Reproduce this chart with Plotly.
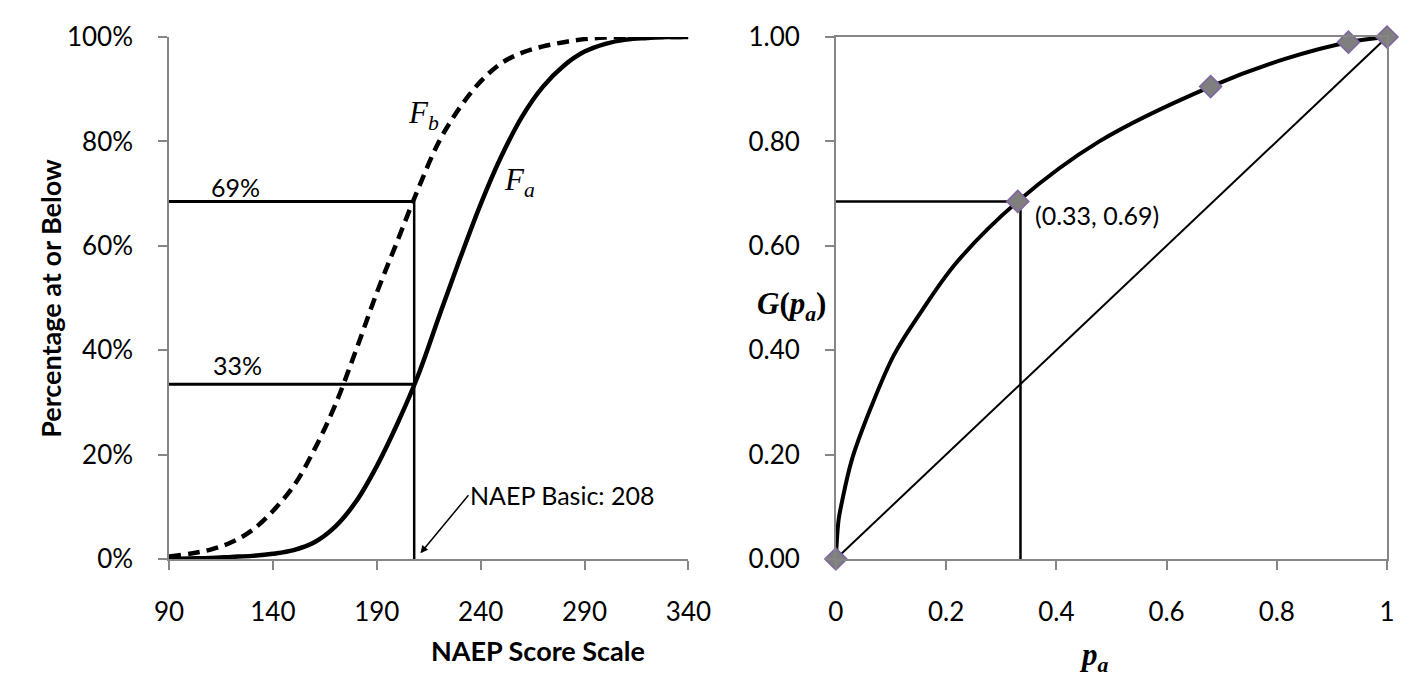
import plotly.graph_objects as go

# ---------------- data ----------------
score = [90, 100, 110, 120, 130, 140, 150, 160, 170, 180, 190, 200, 210,
         220, 230, 240, 250, 260, 270, 280, 290, 300, 310, 320, 330, 340]
fa = [0.000, 0.001, 0.002, 0.004, 0.006, 0.010, 0.017, 0.032, 0.062, 0.110,
      0.178, 0.260, 0.353, 0.465, 0.575, 0.680, 0.772, 0.848, 0.905, 0.945,
      0.972, 0.987, 0.995, 0.998, 1.000, 1.000]
fb = [0.005, 0.010, 0.018, 0.032, 0.055, 0.092, 0.140, 0.210, 0.295, 0.400,
      0.510, 0.610, 0.710, 0.800, 0.865, 0.915, 0.950, 0.970, 0.982, 0.990,
      0.996, 0.999, 1.000, 1.000, 1.000, 1.000]

naep_basic = 208
pa_basic = 0.335
pb_basic = 0.685

g_x = [0.0, 0.005, 0.011, 0.029, 0.064, 0.106, 0.155, 0.219, 0.33, 0.478,
       0.68, 0.815, 0.93, 1.0]
g_y = [0.0, 0.075, 0.109, 0.19, 0.291, 0.392, 0.474, 0.568, 0.685, 0.80,
       0.905, 0.958, 0.99, 1.0]
marker_x = [0.0, 0.33, 0.68, 0.93, 1.0]
marker_y = [0.0, 0.685, 0.905, 0.99, 1.0]
diag = [0.0, 1.0]

left_xticks = [90, 140, 190, 240, 290, 340]
left_yticks = [0, 0.2, 0.4, 0.6, 0.8, 1.0]
right_xticks = [0, 0.2, 0.4, 0.6, 0.8, 1.0]
right_xticklabels = ["0", "0.2", "0.4", "0.6", "0.8", "1"]
right_yticks = [0, 0.2, 0.4, 0.6, 0.8, 1.0]

# ---------------- styling ----------------
FONT = "Lato"
MATH = "Liberation Serif"
FS = 26
AXC = "#868686"
BLACK = "#000000"

fig = go.Figure()

# Left panel
fig.add_trace(go.Scatter(x=score, y=fb, mode="lines", line_shape="spline",
                         line=dict(color=BLACK, width=4.5, dash="12px,7px"),
                         xaxis="x", yaxis="y", showlegend=False, hoverinfo="skip"))
fig.add_trace(go.Scatter(x=score, y=fa, mode="lines", line_shape="spline",
                         line=dict(color=BLACK, width=4.5),
                         xaxis="x", yaxis="y", showlegend=False, hoverinfo="skip"))
fig.add_trace(go.Scatter(x=[score[0], naep_basic], y=[pb_basic, pb_basic], mode="lines",
                         line=dict(color=BLACK, width=3), xaxis="x", yaxis="y",
                         showlegend=False, hoverinfo="skip"))
fig.add_trace(go.Scatter(x=[score[0], naep_basic], y=[pa_basic, pa_basic], mode="lines",
                         line=dict(color=BLACK, width=3), xaxis="x", yaxis="y",
                         showlegend=False, hoverinfo="skip"))
fig.add_trace(go.Scatter(x=[naep_basic, naep_basic], y=[0, pb_basic], mode="lines",
                         line=dict(color=BLACK, width=2.5), xaxis="x", yaxis="y",
                         showlegend=False, hoverinfo="skip"))

# Right panel
fig.add_trace(go.Scatter(x=diag, y=diag, mode="lines",
                         line=dict(color=BLACK, width=2), xaxis="x2", yaxis="y2",
                         showlegend=False, hoverinfo="skip"))
fig.add_trace(go.Scatter(x=[0, pa_basic], y=[pb_basic, pb_basic], mode="lines",
                         line=dict(color=BLACK, width=2.5), xaxis="x2", yaxis="y2",
                         showlegend=False, hoverinfo="skip"))
fig.add_trace(go.Scatter(x=[pa_basic, pa_basic], y=[0, pb_basic], mode="lines",
                         line=dict(color=BLACK, width=2.5), xaxis="x2", yaxis="y2",
                         showlegend=False, hoverinfo="skip"))
fig.add_trace(go.Scatter(x=g_x, y=g_y, mode="lines", line_shape="spline",
                         line=dict(color=BLACK, width=4), xaxis="x2", yaxis="y2",
                         showlegend=False, hoverinfo="skip"))
fig.add_trace(go.Scatter(x=marker_x, y=marker_y, mode="markers", cliponaxis=False,
                         marker=dict(symbol="diamond", size=17, color="#7f7f7f",
                                     line=dict(color="#8064a2", width=1.5)),
                         xaxis="x2", yaxis="y2", showlegend=False, hoverinfo="skip"))

axis_common = dict(showgrid=False, zeroline=False, showline=True, linecolor=AXC,
                   linewidth=1.5, ticks="outside", ticklen=9, tickcolor=AXC,
                   tickwidth=1.5, tickfont=dict(family=FONT, size=FS, color=BLACK))

fig.update_layout(
    width=1414, height=683,
    margin=dict(l=161, r=22, t=21, b=132),
    paper_bgcolor="white", plot_bgcolor="white",
    xaxis=dict(domain=[0, 0.4265], range=[90, 340], tickvals=left_xticks,
               anchor="y", ticklabelstandoff=20, **axis_common),
    yaxis=dict(domain=[0, 1], range=[0, 1], tickvals=left_yticks, tickformat=".0%",
               anchor="x", ticklabelstandoff=20, **axis_common),
    xaxis2=dict(domain=[0.5475, 1], range=[0, 1], tickvals=right_xticks,
                ticktext=right_xticklabels, anchor="y2", mirror=True,
                ticklabelstandoff=20, **axis_common),
    yaxis2=dict(domain=[0, 1], range=[0, 1], tickvals=right_yticks, tickformat=".2f",
                anchor="x2", mirror=True, ticklabelstandoff=20, **axis_common),
)

ann_font = dict(family=FONT, size=25, color=BLACK)
math_font = dict(family=MATH, size=31, color=BLACK)
title_font = dict(family=FONT, size=27, color=BLACK)
annotations = [
    dict(x=122, y=0.713, xref="x", yref="y", text="69%", showarrow=False, font=ann_font),
    dict(x=123, y=0.372, xref="x", yref="y", text="33%", showarrow=False, font=ann_font),
    dict(x=212.4, y=0.851, xref="x", yref="y", text="<i>F</i><sub><i>b</i></sub>",
         showarrow=False, font=math_font),
    dict(x=258.6, y=0.723, xref="x", yref="y", text="<i>F</i><sub><i>a</i></sub>",
         showarrow=False, font=math_font),
    dict(x=211, y=0.011, xref="x", yref="y", text="NAEP Basic: 208", showarrow=True,
         ax=48, ay=-58, xanchor="left", yanchor="middle", arrowhead=2, arrowsize=1,
         arrowwidth=1.5, arrowcolor=BLACK, font=ann_font),
    dict(x=0.357, y=0.659, xref="x2", yref="y2", text="(0.33, 0.69)", xanchor="left",
         showarrow=False, font=ann_font),
    # axis titles
    dict(x=0.2132, y=-0.21, xref="paper", yref="paper", text="<b>NAEP Score Scale</b>",
         showarrow=False, font=title_font),
    dict(x=-0.113, y=0.5, xref="paper", yref="paper", text="<b>Percentage at or Below</b>",
         textangle=-90, showarrow=False, font=title_font),
    dict(x=0.7737, y=-0.23, xref="paper", yref="paper",
         text="<b><i>p</i><sub><i>a</i></sub></b>", showarrow=False, font=math_font),
    dict(x=0.511, y=0.485, xref="paper", yref="paper",
         text="<b><i>G</i>(<i>p</i><sub><i>a</i></sub>)</b>", showarrow=False, font=math_font),
]
fig.update_layout(annotations=annotations)

fig.write_html("out.html")
